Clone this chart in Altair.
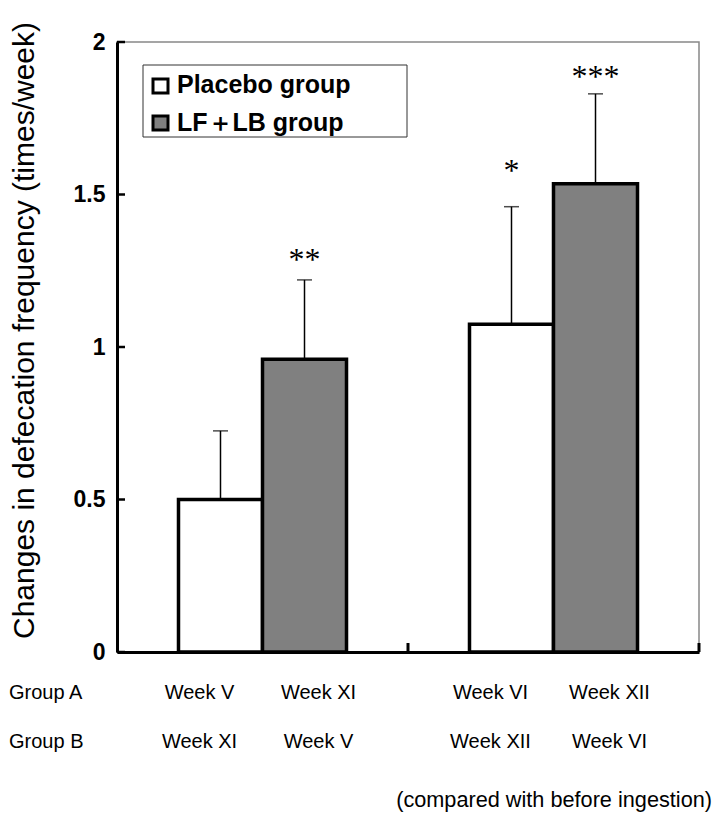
import altair as alt
import pandas as pd

# ---- data ----
periods = ["Period 1", "Period 1", "Period 2", "Period 2"]
groups = ["Placebo group", "LF＋LB group", "Placebo group", "LF＋LB group"]
means = [0.50, 0.96, 1.075, 1.535]
upper = [0.725, 1.22, 1.46, 1.83]
stars = ["", "**", "*", "***"]
star_levels = [None, 1.30, 1.59, 1.90]
group_a_weeks = ["Week V", "Week XI", "Week VI", "Week XII"]
group_b_weeks = ["Week XI", "Week V", "Week XII", "Week VI"]
legend_labels = ["Placebo group", "LF＋LB group"]
legend_fills = ["white", "#808080"]
y_ticks = [0, 0.5, 1, 1.5, 2]
row_labels = ["Group A", "Group B"]
period_domain = ["Period 1", "Period 2"]
y_title = "Changes in defecation frequency (times/week)"
note = "(compared with before ingestion)"

W, H = 582, 610
FONT = "Liberation Sans"

df = pd.DataFrame({
    "period": periods, "group": groups, "mean": means, "upper": upper,
    "star": stars, "star_y": star_levels, "weekA": group_a_weeks, "weekB": group_b_weeks,
})

x_scale = alt.Scale(domain=period_domain, paddingInner=0, paddingOuter=0)
x_enc = alt.X("period:N", scale=x_scale,
              axis=alt.Axis(labels=False, ticks=False, title=None, domainColor="black", domainWidth=3))
xo_enc = alt.XOffset("group:N", scale=alt.Scale(domain=legend_labels, paddingInner=0, paddingOuter=0.732))
y_scale = alt.Scale(domain=[0, 2], nice=False, zero=True)

base = alt.Chart(df)

bars = base.mark_bar(stroke="black", strokeWidth=3.5).encode(
    x=x_enc, xOffset=xo_enc,
    y=alt.Y("mean:Q", scale=y_scale,
            axis=alt.Axis(values=y_ticks, format="~g", ticks=False, grid=False,
                          labelFont=FONT, labelFontWeight="bold", labelFontSize=23,
                          labelColor="black", labelPadding=12,
                          domainColor="black", domainWidth=3,
                          title=y_title, titleFont=FONT, titleFontSize=30,
                          titleFontWeight="normal", titleColor="black",
                          titleAngle=-90, titleX=-93, titleY=288,
                          titleAlign="center", titleBaseline="middle")),
    color=alt.Color("group:N", scale=alt.Scale(domain=legend_labels, range=legend_fills), legend=None),
)

err = base.mark_rule(color="black", strokeWidth=1.5).encode(
    x=x_enc, xOffset=xo_enc,
    y=alt.Y("mean:Q", scale=y_scale), y2="upper:Q",
)
caps = base.mark_tick(color="black", thickness=1.5, size=15).encode(
    x=x_enc, xOffset=xo_enc, y=alt.Y("upper:Q", scale=y_scale),
)
star_txt = base.mark_text(font="Liberation Serif", fontSize=32, color="black", baseline="middle", dy=4).encode(
    x=x_enc, xOffset=xo_enc, y=alt.Y("star_y:Q", scale=y_scale), text="star:N",
)

week_layers = []
for grp, dx in zip(legend_labels, [-21, 14]):
    for field, yy in [("weekA", H + 41), ("weekB", H + 90)]:
        week_layers.append(
            base.transform_filter(alt.datum.group == grp)
            .mark_text(font=FONT, fontSize=20, color="black", baseline="middle", dx=dx)
            .encode(x=x_enc, xOffset=xo_enc, y=alt.value(yy), text=f"{field}:N"))

# inward ticks on y axis
ytick_df = pd.DataFrame({"v": y_ticks})
yticks = alt.Chart(ytick_df).mark_rule(color="black", strokeWidth=2.5).encode(
    y=alt.Y("v:Q", scale=y_scale), x=alt.value(0), x2=alt.value(8))

# inward ticks on x axis at category boundaries
xt_df = pd.DataFrame({"period": ["Period 2"]})
xtick_mid = alt.Chart(xt_df).mark_rule(color="black", strokeWidth=3).encode(
    x=alt.X("period:N", bandPosition=0, scale=x_scale),
    y=alt.value(H), y2=alt.value(H - 9))
xtick_end = alt.Chart(xt_df).mark_rule(color="black", strokeWidth=3).encode(
    x=alt.X("period:N", bandPosition=1, scale=x_scale),
    y=alt.value(H), y2=alt.value(H - 9))

# row labels
one = pd.DataFrame({"a": [0]})
rows = []
for i, lab in enumerate(row_labels):
    rows.append(alt.Chart(one).mark_text(font=FONT, fontSize=20, color="black", align="left",
                                         baseline="middle", text=lab).encode(
        x=alt.value(-108), y=alt.value(H + 41 + 49 * i)))

note_txt = alt.Chart(one).mark_text(font=FONT, fontSize=21.7, color="black", align="right",
                                    baseline="middle", text=note).encode(
    x=alt.value(595), y=alt.value(758))

# legend (drawn)
leg_box = alt.Chart(one).mark_rect(fill="white", stroke="#333333", strokeWidth=1).encode(
    x=alt.value(26), x2=alt.value(290), y=alt.value(23), y2=alt.value(95))
leg = [leg_box]
for i, (lab, fill) in enumerate(zip(legend_labels, legend_fills)):
    cy = 44 + 37 * i
    leg.append(alt.Chart(one).mark_rect(fill=fill, stroke="black", strokeWidth=3).encode(
        x=alt.value(36), x2=alt.value(51), y=alt.value(cy - 7), y2=alt.value(cy + 7)))
    leg.append(alt.Chart(one).mark_text(font=FONT, fontSize=25, fontWeight="bold", color="black",
                                        align="left", baseline="alphabetic", text=lab).encode(
        x=alt.value(60), y=alt.value(51 + 38 * i)))

chart = alt.layer(bars, err, caps, star_txt, *week_layers, yticks, xtick_mid, xtick_end,
                  *rows, note_txt, *leg).properties(
    width=W, height=H,
    padding={"left": 109, "top": 34, "right": 13, "bottom": 170},
    autosize=alt.AutoSizeParams(type="none"),
).configure_view(stroke="#888888", strokeWidth=1.5)

chart.save("out.html", embed_options={"renderer": "svg", "actions": False})
